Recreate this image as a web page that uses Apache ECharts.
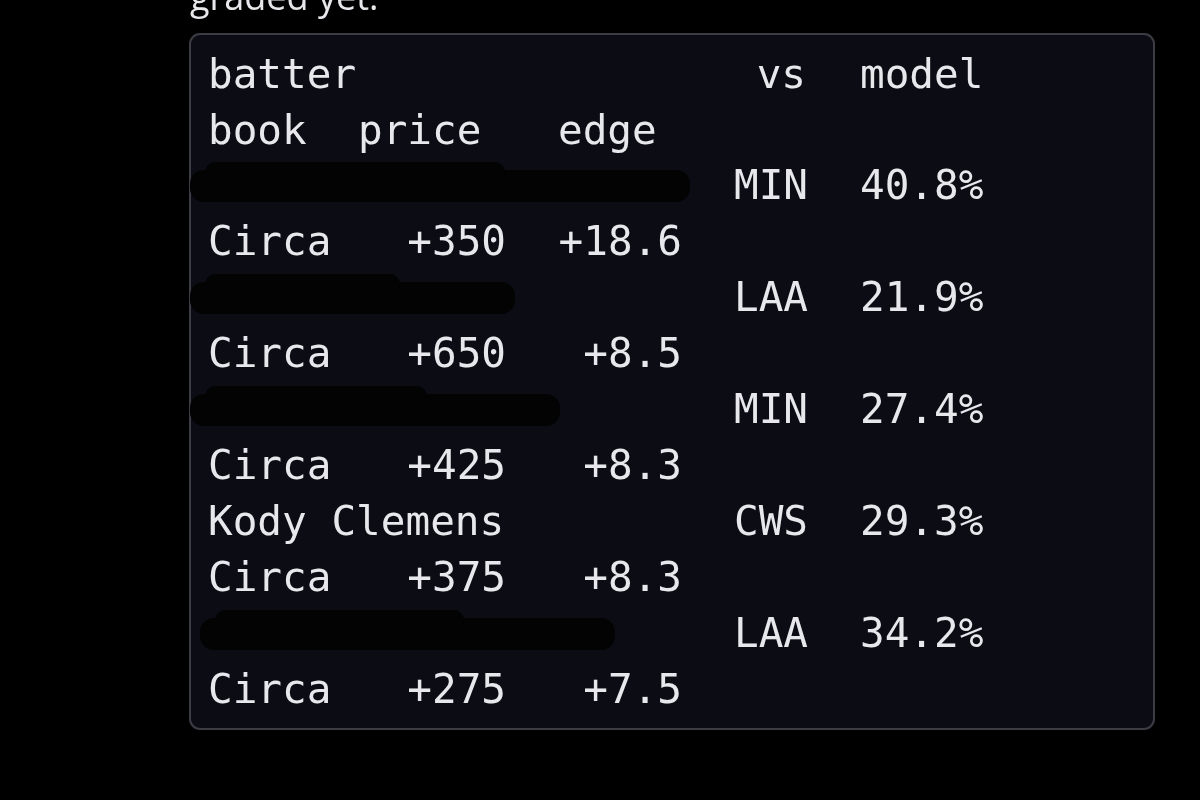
<!DOCTYPE html><html><head><meta charset="utf-8"><script src="https://cdn.jsdelivr.net/npm/echarts@6/dist/echarts.min.js"></script>
<style>html,body{margin:0;background:#000}#c{width:1200px;height:800px}</style></head><body><div id="c"></div><script>
const batters=['','','','Kody Clemens',''];
const teams=['MIN','LAA','MIN','CWS','LAA'];
const models=['40.8%','21.9%','27.4%','29.3%','34.2%'];
const books=['Circa','Circa','Circa','Circa','Circa'];
const prices=['+350','+650','+425','+375','+275'];
const edges=['+18.6','+8.5','+8.3','+8.3','+7.5'];
const headers=['batter','vs','model','book','price','edge'];
const redact=[[190,690],[190,515],[190,560],null,[200,615]];
const F='"DejaVu Sans Mono", monospace', FS=41, C='#e8e8ec';
const g=[];
function t(x,y,s,align){g.push({type:'text',x,y,style:{text:s,fill:C,font:FS+'px '+F,textAlign:align||'left',textVerticalAlign:'middle'}});}
g.push({type:'text',x:190,y:0,style:{text:'graded yet.',fill:C,font:'36px "Open Sans"',textVerticalAlign:'middle'}});
g.push({type:'rect',shape:{x:190,y:34,width:964,height:695,r:10},style:{fill:'#0b0c14',stroke:'#3c3d44',lineWidth:2}});
t(208,77,headers[0]);t(806,77,headers[1],'right');t(860,77,headers[2]);
t(208,133,headers[3]);t(358,133,headers[4]);t(558,133,headers[5]);
for(let i=0;i<5;i++){const y1=188+i*112,y2=y1+56;
 if(batters[i])t(208,y1,batters[i]);
 if(redact[i]){const [a,b]=redact[i];
  g.push({type:'rect',shape:{x:a,y:y1-18,width:b-a,height:32,r:14},style:{fill:'#030303'}});
  g.push({type:'rect',shape:{x:a+15,y:y1-26,width:(b-a)*0.6,height:20,r:10},style:{fill:'#030303'}});}
 t(734,y1,teams[i]);t(860,y1,models[i]);
 t(208,y2,books[i]);t(506,y2,prices[i],'right');t(682,y2,edges[i],'right');}
const ch=echarts.init(document.getElementById('c'));
ch.setOption({backgroundColor:'#000',graphic:g});
</script></body></html>
